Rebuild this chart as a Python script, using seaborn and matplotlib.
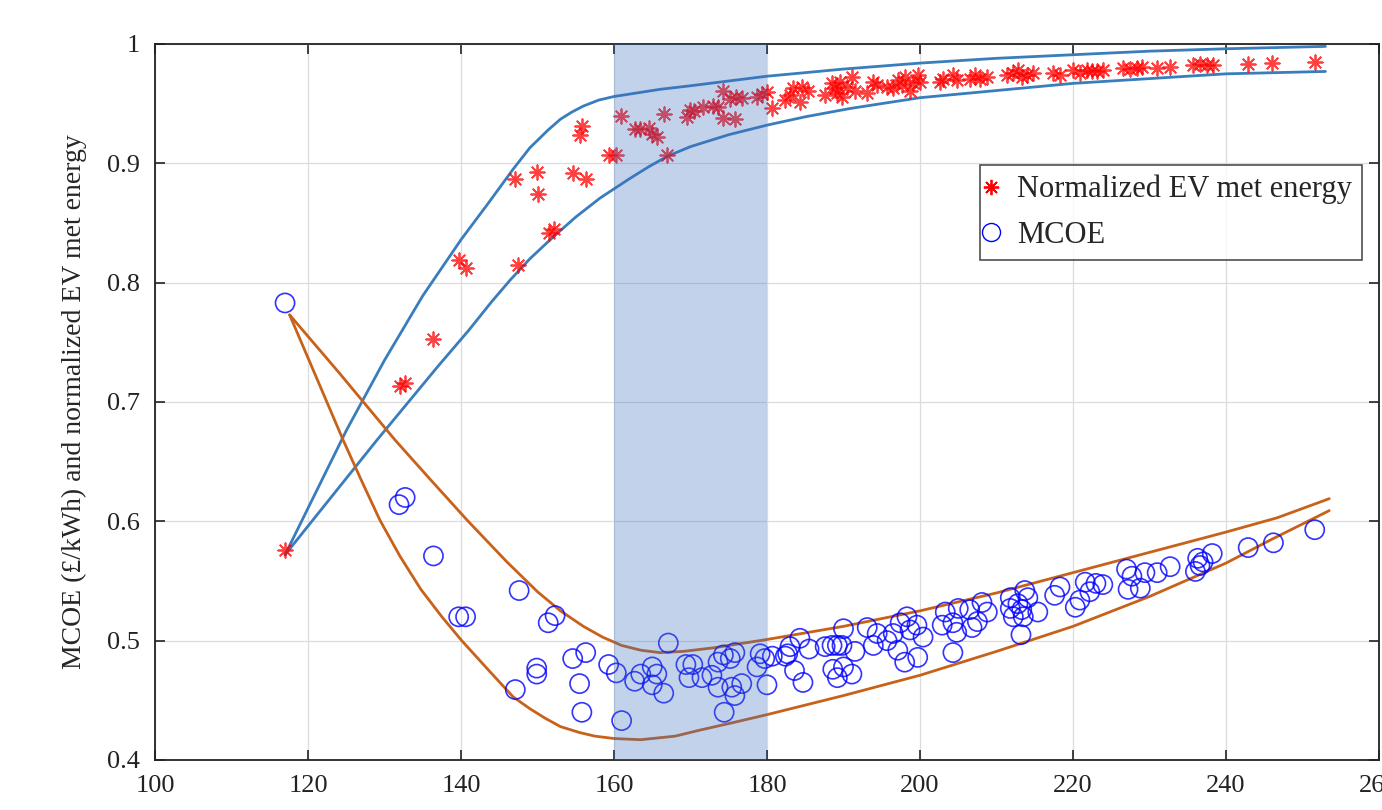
import matplotlib
matplotlib.use("Agg")
import matplotlib.pyplot as plt
from matplotlib.lines import Line2D
import numpy as np
import seaborn as sns

# --- data ------------------------------------------------------------------
star_x = [117.0, 132.0, 132.7, 136.4, 139.8, 140.6, 147.0, 147.5, 149.9, 150.0,
          151.5, 152.2, 154.7, 155.5, 155.8, 156.4, 159.4, 160.3, 160.9, 162.7,
          163.4, 164.6, 165.0, 165.6, 166.5, 166.9, 169.5, 169.9, 170.5, 171.6,
          173.0, 173.6, 174.2, 174.3, 175.2, 175.8, 176.0, 176.7, 178.7, 179.3,
          180.0, 180.7, 182.4, 183.0, 183.4, 184.3, 184.6, 185.4, 187.6, 188.5,
          188.9, 189.2, 189.5, 189.8, 190.5, 191.1, 191.5, 193.1, 193.9, 194.4,
          195.7, 196.5, 197.1, 197.7, 198.0, 198.7, 199.1, 199.7, 200.0, 202.6,
          203.0, 204.3, 204.8, 206.5, 207.2, 207.8, 208.8, 211.4, 212.2, 212.8,
          213.3, 214.0, 214.8, 217.4, 218.3, 220.0, 220.9, 221.8, 222.5, 223.1,
          223.9, 226.5, 227.4, 228.4, 229.0, 231.0, 232.7, 235.7, 236.6, 237.5,
          238.3, 242.9, 246.0, 251.6]
star_y = [0.576, 0.713, 0.716, 0.753, 0.819, 0.812, 0.887, 0.815, 0.893, 0.874,
          0.842, 0.845, 0.892, 0.924, 0.931, 0.887, 0.907, 0.907, 0.940, 0.929,
          0.929, 0.930, 0.925, 0.922, 0.941, 0.907, 0.939, 0.945, 0.944, 0.947,
          0.948, 0.947, 0.938, 0.961, 0.954, 0.937, 0.956, 0.955, 0.956, 0.958,
          0.960, 0.946, 0.953, 0.957, 0.963, 0.951, 0.964, 0.961, 0.957, 0.967,
          0.963, 0.959, 0.968, 0.956, 0.964, 0.972, 0.961, 0.959, 0.968, 0.966,
          0.964, 0.963, 0.970, 0.966, 0.972, 0.961, 0.967, 0.974, 0.968, 0.968,
          0.971, 0.974, 0.970, 0.971, 0.974, 0.971, 0.972, 0.974, 0.976, 0.978,
          0.972, 0.974, 0.976, 0.976, 0.974, 0.978, 0.976, 0.978, 0.977, 0.977,
          0.978, 0.980, 0.979, 0.980, 0.981, 0.980, 0.981, 0.982, 0.983, 0.982,
          0.982, 0.983, 0.984, 0.985]

circ_x = [117.0, 131.9, 132.7, 136.4, 139.7, 140.6, 147.1, 147.6, 149.9, 149.9,
          151.4, 152.3, 154.6, 155.5, 155.8, 156.3, 159.3, 160.3, 161.0, 162.7,
          163.5, 165.0, 165.0, 165.6, 166.5, 167.1, 169.4, 169.8, 170.3, 171.5,
          172.8, 173.6, 173.6, 174.3, 174.4, 175.2, 175.4, 175.8, 175.8, 176.7,
          178.7, 179.1, 179.7, 180.0, 180.7, 182.4, 182.7, 183.0, 183.6, 184.3,
          184.7, 185.5, 187.6, 188.5, 188.6, 189.2, 189.2, 189.8, 190.0, 190.0,
          191.1, 191.5, 193.1, 193.9, 194.4, 195.7, 196.5, 197.1, 197.4, 198.0,
          198.3, 198.7, 199.6, 199.7, 200.4, 202.9, 203.3, 204.3, 204.3, 204.8,
          205.0, 206.5, 206.8, 207.5, 208.1, 208.8, 211.8, 211.8, 212.2, 212.8,
          213.2, 213.3, 213.5, 213.7, 214.1, 215.4, 217.6, 218.3, 220.3, 220.9,
          221.6, 222.2, 223.0, 223.9, 227.0, 227.2, 227.7, 228.8, 229.4, 231.0,
          232.7, 236.0, 236.3, 236.6, 237.0, 238.2, 242.9, 246.2, 251.6]
circ_y = [0.783, 0.614, 0.620, 0.571, 0.520, 0.520, 0.459, 0.542, 0.477, 0.472,
          0.515, 0.521, 0.485, 0.464, 0.440, 0.490, 0.480, 0.473, 0.433, 0.466,
          0.472, 0.478, 0.463, 0.472, 0.456, 0.498, 0.480, 0.469, 0.480, 0.469,
          0.471, 0.461, 0.482, 0.488, 0.440, 0.485, 0.461, 0.490, 0.454, 0.464,
          0.478, 0.489, 0.485, 0.463, 0.487, 0.487, 0.489, 0.495, 0.475, 0.502,
          0.465, 0.493, 0.495, 0.496, 0.476, 0.496, 0.469, 0.496, 0.510, 0.478,
          0.472, 0.491, 0.511, 0.496, 0.506, 0.500, 0.506, 0.492, 0.515, 0.482,
          0.520, 0.509, 0.513, 0.486, 0.503, 0.513, 0.524, 0.515, 0.490, 0.507,
          0.527, 0.526, 0.511, 0.516, 0.532, 0.524, 0.536, 0.527, 0.520, 0.531,
          0.505, 0.526, 0.520, 0.542, 0.536, 0.524, 0.538, 0.545, 0.528, 0.534,
          0.549, 0.541, 0.548, 0.547, 0.560, 0.543, 0.554, 0.544, 0.557, 0.557,
          0.562, 0.558, 0.569, 0.563, 0.566, 0.573, 0.578, 0.582, 0.593]

# envelope curves (EV met energy, blue)
ev_hi_x = [117, 120, 125, 130, 135, 140, 143.5, 146.8, 149, 151.4, 153, 154.5,
           156, 158, 160, 163, 166, 170, 175, 180, 190, 200, 210, 220, 230,
           240, 253]
ev_hi_y = [0.572, 0.611, 0.676, 0.735, 0.789, 0.836, 0.866, 0.895, 0.913,
           0.928, 0.937, 0.943, 0.948, 0.953, 0.956, 0.959, 0.962, 0.965,
           0.969, 0.973, 0.979, 0.984, 0.988, 0.991, 0.994, 0.996, 0.998]
ev_lo_x = [117, 121, 125, 129, 133, 137, 141, 144, 146.4, 149, 152, 155,
           158.2, 162, 164.5, 167, 170, 175, 180, 185, 190.9, 200, 210, 220,
           230, 240, 253]
ev_lo_y = [0.572, 0.604, 0.636, 0.668, 0.699, 0.730, 0.760, 0.784, 0.802,
           0.820, 0.838, 0.855, 0.871, 0.887, 0.897, 0.906, 0.914, 0.924,
           0.932, 0.939, 0.946, 0.955, 0.961, 0.967, 0.971, 0.975, 0.977]

# envelope curves (MCOE, orange)
mc_hi_x = [117.6, 124, 131.4, 136, 140.8, 146, 150, 153, 156, 158.5, 161,
           163.5, 166, 169, 173, 180, 190, 200, 210, 220, 230, 240, 246.7,
           253.5]
mc_hi_y = [0.773, 0.725, 0.668, 0.635, 0.601, 0.566, 0.541, 0.525, 0.512,
           0.503, 0.496, 0.492, 0.490, 0.491, 0.494, 0.501, 0.512, 0.525,
           0.540, 0.557, 0.574, 0.591, 0.603, 0.619]
mc_lo_x = [117.6, 121, 124.6, 127, 129.4, 132, 134.75, 137.5, 140.1, 143.5,
           146.8, 149, 151, 153, 155.5, 157.5, 160, 163.5, 168, 171.2, 176,
           180, 190, 200, 210, 220, 230, 240, 246, 253.5]
mc_lo_y = [0.773, 0.722, 0.668, 0.634, 0.601, 0.571, 0.543, 0.520, 0.500,
           0.476, 0.453, 0.443, 0.435, 0.428, 0.423, 0.420, 0.418, 0.417,
           0.420, 0.425, 0.432, 0.438, 0.454, 0.471, 0.491, 0.512, 0.537,
           0.565, 0.585, 0.609]

band = (160, 180)

x_ticks = [100, 120, 140, 160, 180, 200, 220, 240, 260]
y_ticks = [0.4, 0.5, 0.6, 0.7, 0.8, 0.9, 1.0]
y_ticklabels = ["0.4", "0.5", "0.6", "0.7", "0.8", "0.9", "1"]

# --- style -----------------------------------------------------------------
sns.set_style("ticks")
plt.rcParams["font.family"] = ["Liberation Serif", "DejaVu Serif"]

fig = plt.figure(figsize=(13.82, 8.10), dpi=100)
ax = fig.add_axes([155 / 1382, 50 / 810, 1224 / 1382, 716 / 810])

ev_blue = "#3a7dbd"
mc_orange = "#c8621a"

for xx, yy in ((ev_hi_x, ev_hi_y), (ev_lo_x, ev_lo_y)):
    sns.lineplot(x=xx, y=yy, ax=ax, color=ev_blue, linewidth=2.0,
                 sort=False, estimator=None, zorder=3)
for xx, yy in ((mc_hi_x, mc_hi_y), (mc_lo_x, mc_lo_y)):
    sns.lineplot(x=xx, y=yy, ax=ax, color=mc_orange, linewidth=2.0,
                 sort=False, estimator=None, zorder=3)

sns.scatterplot(x=star_x, y=star_y, ax=ax, marker=(8, 2, 0), s=110,
                color="red", edgecolor="red", linewidth=1.3, alpha=0.75,
                zorder=4)
sns.scatterplot(x=circ_x, y=circ_y, ax=ax, marker="o", s=190,
                facecolor="none", edgecolor="blue", linewidth=1.2, alpha=0.8,
                zorder=4)

ax.axvspan(*band, color=(58 / 255, 108 / 255, 192 / 255), alpha=0.3,
           linewidth=0, zorder=5)

ax.set_xlim(100, 260)
ax.set_ylim(0.4, 1.0)
ax.set_xticks(x_ticks)
ax.set_yticks(y_ticks)
ax.set_yticklabels(y_ticklabels)
ax.grid(True, color="#dcdcdc", linewidth=0.9)
ax.set_axisbelow(True)
ax.tick_params(direction="in", length=7, width=1.2, top=True, right=True,
               labelsize=19, pad=11, colors="#222222")
for sp in ax.spines.values():
    sp.set_visible(True)
    sp.set_linewidth(1.3)
    sp.set_color("#222222")

ax.set_ylabel("MCOE (£/kWh) and normalized EV met energy", fontsize=20,
              labelpad=14)

handles = [
    Line2D([], [], linestyle="none", marker=(8, 2, 0), markersize=11,
           color="red", markeredgewidth=1.3),
    Line2D([], [], linestyle="none", marker="o", markersize=13,
           markerfacecolor="none", markeredgecolor="blue",
           markeredgewidth=1.0),
]
leg = ax.legend(handles, ["Normalized EV met energy", "MCOE"],
                loc="upper right", bbox_to_anchor=(0.986, 0.831),
                fontsize=22, frameon=True, fancybox=False,
                handlelength=0.1, handletextpad=0.8, borderpad=0.32,
                labelspacing=0.55, borderaxespad=0)
leg.get_frame().set_edgecolor("#222222")
leg.get_frame().set_linewidth(1.2)
leg.set_zorder(10)

fig.savefig("out.png", dpi=100)
